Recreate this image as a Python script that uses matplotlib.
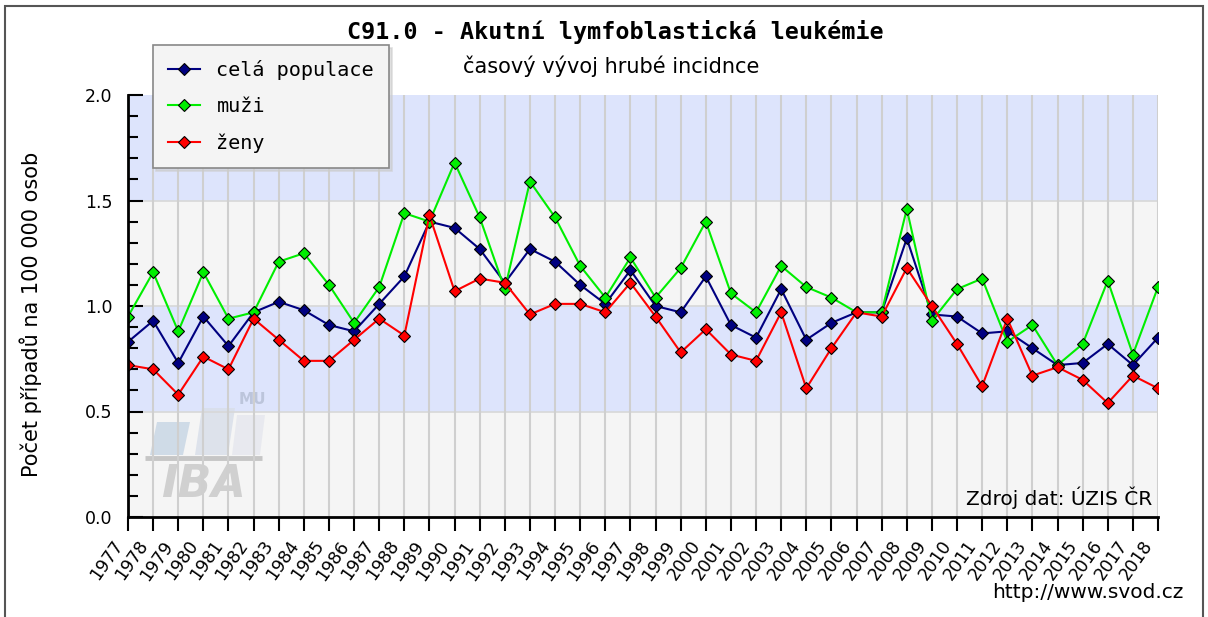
import matplotlib
matplotlib.use('Agg')
import matplotlib.pyplot as plt
import matplotlib.transforms as mtransforms
from matplotlib.patches import Rectangle, Polygon

# Datos: incidencia hrubá (případy na 100 000 osob)
roky = list(range(1977, 2019))
cela_populace = [0.83, 0.93, 0.73, 0.95, 0.81, 0.97, 1.02, 0.98, 0.91, 0.88, 1.01,
                 1.14, 1.40, 1.37, 1.27, 1.11, 1.27, 1.21, 1.10, 1.01, 1.17,
                 1.00, 0.97, 1.14, 0.91, 0.85, 1.08, 0.84, 0.92, 0.97, 0.97,
                 1.32, 0.96, 0.95, 0.87, 0.88, 0.80, 0.72, 0.73, 0.82, 0.72, 0.85]
muzi = [0.95, 1.16, 0.88, 1.16, 0.94, 0.97, 1.21, 1.25, 1.10, 0.92, 1.09,
        1.44, 1.40, 1.68, 1.42, 1.08, 1.59, 1.42, 1.19, 1.04, 1.23,
        1.04, 1.18, 1.40, 1.06, 0.97, 1.19, 1.09, 1.04, 0.97, 0.97,
        1.46, 0.93, 1.08, 1.13, 0.83, 0.91, 0.72, 0.82, 1.12, 0.77, 1.09]
zeny = [0.72, 0.70, 0.58, 0.76, 0.70, 0.94, 0.84, 0.74, 0.74, 0.84, 0.94,
        0.86, 1.43, 1.07, 1.13, 1.11, 0.96, 1.01, 1.01, 0.97, 1.11,
        0.95, 0.78, 0.89, 0.77, 0.74, 0.97, 0.61, 0.80, 0.97, 0.95,
        1.18, 1.00, 0.82, 0.62, 0.94, 0.67, 0.71, 0.65, 0.54, 0.67, 0.61]
serie_nombres = ['celá populace', 'muži', 'ženy']
serie_colores = ['#000080', '#00ee00', '#ff0000']
y_ticks = [0.0, 0.5, 1.0, 1.5, 2.0]

W, H = 1208, 617


def px(x, y):
    # pixel (desde arriba a la izquierda) -> fracción de figura
    return (x / W, 1 - y / H)


fig = plt.figure(figsize=(W / 100, H / 100), dpi=100)
fig.patch.set_facecolor('white')

# marco exterior
fig.patches.append(Rectangle(px(5, 640), (1203 - 5) / W, (640 - 6) / H,
                             transform=fig.transFigure, fill=False,
                             edgecolor='#555555', linewidth=1.5))

ax = fig.add_axes([128 / W, (H - 517) / H, (1158 - 128) / W, (517 - 95) / H])
ax.set_xlim(roky[0], roky[-1])
ax.set_ylim(0, 2.0)

# bandas de fondo
for i in range(len(y_ticks) - 1):
    color = '#f5f5f5' if i % 2 == 0 else '#dde4fc'
    ax.axhspan(y_ticks[i], y_ticks[i + 1], color=color, zorder=0, linewidth=0)
for y in y_ticks[1:-1]:
    ax.axhline(y, color='#d8d8d8', linewidth=1.2, zorder=0.6)
for r in roky:
    ax.axvline(r, color='#cfcfcf', linewidth=1.5, zorder=0.6)

# logo IBA MU (marca de agua)
logo = [([(150, 455), (183, 455), (190, 422), (157, 422)], '#c9d7e5'),
        ([(195, 455), (228, 455), (235, 408), (202, 408)], '#d9dfea'),
        ([(232, 455), (260, 455), (265, 415), (237, 415)], '#e6e8ee')]
for pts, c in logo:
    ax.add_patch(Polygon([px(*p) for p in pts], closed=True, transform=fig.transFigure,
                         facecolor=c, edgecolor='none', alpha=0.85, zorder=0.4))
ax.plot([145 / W, 262 / W], [1 - 458 / H, 1 - 458 / H], transform=fig.transFigure,
        color='#c6c6c6', linewidth=3.5, zorder=0.4, solid_capstyle='butt')
ax.text(*px(203, 497), 'IBA', transform=fig.transFigure, fontsize=32,
        fontweight='bold', fontstyle='italic', color='#d0d0d0', ha='center', va='baseline',
        zorder=0.4)
ax.text(*px(252, 400), 'MU', transform=fig.transFigure, fontsize=11,
        fontweight='bold', color='#bcc5db', ha='center', va='center', zorder=0.4)

# series
for valores, nombre, color in zip([cela_populace, muzi, zeny], serie_nombres, serie_colores):
    ax.plot(roky, valores, color=color, linewidth=1.5, marker='D', markersize=6,
            markerfacecolor=color, markeredgecolor='black', markeredgewidth=0.8,
            label=nombre, zorder=3)

# ejes
for lado in ['top', 'right']:
    ax.spines[lado].set_visible(False)
for lado in ['left', 'bottom']:
    ax.spines[lado].set_linewidth(2)
    ax.spines[lado].set_zorder(4)

ax.set_yticks(y_ticks)
ax.set_yticklabels([f'{v:.1f}' for v in y_ticks], fontsize=12.5)
ax.set_yticks([v / 10 for v in range(21)], minor=True)
ax.tick_params(axis='y', which='major', direction='in', length=11, width=1.5, pad=11)
ax.tick_params(axis='y', which='minor', direction='in', length=7, width=1.5)

ax.set_xticks(roky)
ax.set_xticklabels([str(r) for r in roky], fontsize=12.5, rotation=55,
                   ha='right', va='center', rotation_mode='anchor')
ax.tick_params(axis='x', which='major', direction='out', length=10, width=1.5, pad=4)
desplazamiento = mtransforms.ScaledTranslation(-0.09, -0.06, fig.dpi_scale_trans)
for etiqueta in ax.get_xticklabels():
    etiqueta.set_transform(etiqueta.get_transform() + desplazamiento)

ax.set_ylabel('Počet případů na 100 000 osob', fontsize=15)
ax.yaxis.set_label_coords((42 - 128) / (1158 - 128), (517 - 314) / (517 - 95))

# títulos y textos
fig.text(*px(615, 32), 'C91.0 - Akutní lymfoblastická leukémie', fontsize=16.8,
         fontweight='bold', family='DejaVu Sans Mono', ha='center', va='center')
fig.text(*px(611, 66), 'časový vývoj hrubé incidnce', fontsize=15,
         ha='center', va='center')
ax.text(0.994, 0.045, 'Zdroj dat: ÚZIS ČR', transform=ax.transAxes, fontsize=14.5,
        ha='right', va='center', zorder=5)
fig.text(*px(1183, 593), 'http://www.svod.cz', fontsize=14.5, ha='right', va='center')

# leyenda
leg = ax.legend(loc='upper left', bbox_to_anchor=px(153, 45), bbox_transform=fig.transFigure,
                borderaxespad=0, prop={'family': 'DejaVu Sans Mono', 'size': 14.5},
                frameon=True, fancybox=False, shadow={'color': '#cccccc', 'alpha': 0.6},
                facecolor='#f4f4f4', edgecolor='#888888', framealpha=1,
                handlelength=1.6, handletextpad=0.8, labelspacing=0.85, borderpad=0.75)
leg.get_frame().set_linewidth(1.2)
leg.set_zorder(10)

fig.savefig('out.png', dpi=100)
